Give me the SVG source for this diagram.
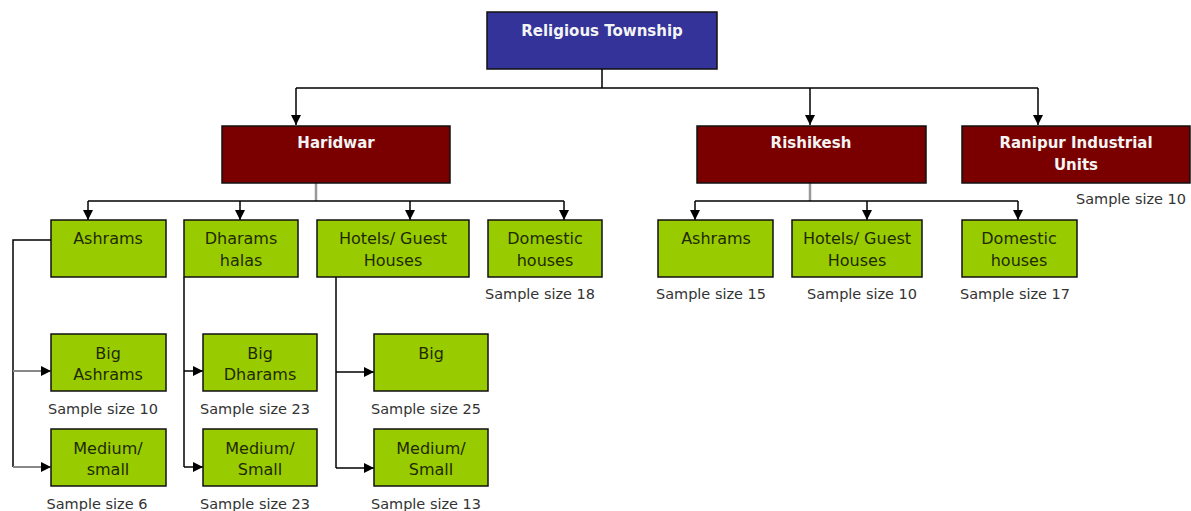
<svg xmlns="http://www.w3.org/2000/svg" width="1191" height="511" viewBox="0 0 1191 511">
  <defs>
    <marker id="arrow" viewBox="0 0 10 10" refX="10" refY="5" markerWidth="10" markerHeight="10" markerUnits="userSpaceOnUse" orient="auto">
      <path d="M0,0 L10,5 L0,10 z" fill="#000"/>
    </marker>
    <style>
      .root { fill: #333399; stroke: #111; stroke-width: 1.5; }
      .region { fill: #7a0000; stroke: #111; stroke-width: 1.5; }
      .cat { fill: #99cc00; stroke: #111; stroke-width: 1.5; }
      .head { font-family: "DejaVu Sans", Verdana, sans-serif; font-size: 15px; font-weight: bold; fill: #f4f4f4; text-anchor: middle; }
      .label { font-family: "DejaVu Sans", Verdana, sans-serif; font-size: 16px; fill: #1e2a00; text-anchor: middle; }
      .note { font-family: "DejaVu Sans", Verdana, sans-serif; font-size: 14.5px; fill: #333; text-anchor: middle; }
      .wire { fill: none; stroke: #000; stroke-width: 1.5; }
      .stem { fill: none; stroke: #999; stroke-width: 2.5; }
      .feed { fill: none; stroke: #888; stroke-width: 2; }
    </style>
  </defs>

  <!-- connectors -->
  <g id="connectors">
    <!-- root to regions -->
    <path class="wire" d="M602,69 V88 M296,88 H1038"/>
    <path class="wire" marker-end="url(#arrow)" d="M296,88 V125"/>
    <path class="wire" marker-end="url(#arrow)" d="M810,88 V125"/>
    <path class="wire" marker-end="url(#arrow)" d="M1038,88 V125"/>

    <!-- Haridwar to categories -->
    <path class="stem" d="M316,183 V201"/>
    <path class="wire" d="M88,201 H564"/>
    <path class="wire" marker-end="url(#arrow)" d="M88,201 V220"/>
    <path class="wire" marker-end="url(#arrow)" d="M240,201 V220"/>
    <path class="wire" marker-end="url(#arrow)" d="M410,201 V220"/>
    <path class="wire" marker-end="url(#arrow)" d="M564,201 V220"/>

    <!-- Rishikesh to categories -->
    <path class="stem" d="M810,183 V201"/>
    <path class="wire" d="M695,201 H1018"/>
    <path class="wire" marker-end="url(#arrow)" d="M695,201 V220"/>
    <path class="wire" marker-end="url(#arrow)" d="M867,201 V220"/>
    <path class="wire" marker-end="url(#arrow)" d="M1018,201 V220"/>

    <!-- Ashrams breakdown -->
    <path class="wire" d="M51,240 H13 V467"/>
    <path class="feed" marker-end="url(#arrow)" d="M13,371 H51"/>
    <path class="feed" marker-end="url(#arrow)" d="M13,467 H51"/>

    <!-- Dharamshalas breakdown -->
    <path class="wire" d="M184,277 V467"/>
    <path class="wire" marker-end="url(#arrow)" d="M184,371 H203"/>
    <path class="wire" marker-end="url(#arrow)" d="M184,467 H203"/>

    <!-- Hotels breakdown -->
    <path class="wire" d="M336,277 V468"/>
    <path class="wire" marker-end="url(#arrow)" d="M336,372 H374"/>
    <path class="wire" marker-end="url(#arrow)" d="M336,468 H374"/>
  </g>

  <!-- top level -->
  <g id="religious-township">
    <rect class="root" x="487" y="12" width="230" height="57"/>
    <text class="head" x="602" y="36">Religious Township</text>
  </g>

  <!-- regions -->
  <g id="haridwar">
    <rect class="region" x="222" y="126" width="228" height="57"/>
    <text class="head" x="336" y="148">Haridwar</text>
  </g>
  <g id="rishikesh">
    <rect class="region" x="697" y="126" width="229" height="57"/>
    <text class="head" x="811" y="148">Rishikesh</text>
  </g>
  <g id="ranipur">
    <rect class="region" x="962" y="126" width="228" height="57"/>
    <text class="head" x="1076" y="148">Ranipur Industrial</text>
    <text class="head" x="1076" y="170">Units</text>
    <text class="note" x="1131" y="204">Sample size 10</text>
  </g>

  <!-- Haridwar categories -->
  <g id="h-ashrams">
    <rect class="cat" x="51" y="220" width="115" height="57"/>
    <text class="label" x="108" y="244">Ashrams</text>
  </g>
  <g id="h-dharamshalas">
    <rect class="cat" x="184" y="220" width="114" height="57"/>
    <text class="label" x="241" y="244">Dharams</text>
    <text class="label" x="241" y="266">halas</text>
  </g>
  <g id="h-hotels">
    <rect class="cat" x="317" y="220" width="152" height="57"/>
    <text class="label" x="393" y="244">Hotels/ Guest</text>
    <text class="label" x="393" y="266">Houses</text>
  </g>
  <g id="h-domestic">
    <rect class="cat" x="488" y="220" width="114" height="57"/>
    <text class="label" x="545" y="244">Domestic</text>
    <text class="label" x="545" y="266">houses</text>
    <text class="note" x="540" y="299">Sample size 18</text>
  </g>

  <!-- Rishikesh categories -->
  <g id="r-ashrams">
    <rect class="cat" x="658" y="220" width="115" height="57"/>
    <text class="label" x="716" y="244">Ashrams</text>
    <text class="note" x="711" y="299">Sample size 15</text>
  </g>
  <g id="r-hotels">
    <rect class="cat" x="792" y="220" width="130" height="57"/>
    <text class="label" x="857" y="244">Hotels/ Guest</text>
    <text class="label" x="857" y="266">Houses</text>
    <text class="note" x="862" y="299">Sample size 10</text>
  </g>
  <g id="r-domestic">
    <rect class="cat" x="962" y="220" width="115" height="57"/>
    <text class="label" x="1019" y="244">Domestic</text>
    <text class="label" x="1019" y="266">houses</text>
    <text class="note" x="1015" y="299">Sample size 17</text>
  </g>

  <!-- Ashrams by size -->
  <g id="big-ashrams">
    <rect class="cat" x="51" y="334" width="115" height="57"/>
    <text class="label" x="108" y="359">Big</text>
    <text class="label" x="108" y="380">Ashrams</text>
    <text class="note" x="103" y="414">Sample size 10</text>
  </g>
  <g id="medium-ashrams">
    <rect class="cat" x="51" y="429" width="115" height="57"/>
    <text class="label" x="108" y="454">Medium/</text>
    <text class="label" x="108" y="475">small</text>
    <text class="note" x="97" y="509">Sample size 6</text>
  </g>

  <!-- Dharamshalas by size -->
  <g id="big-dharams">
    <rect class="cat" x="203" y="334" width="114" height="57"/>
    <text class="label" x="260" y="359">Big</text>
    <text class="label" x="260" y="380">Dharams</text>
    <text class="note" x="255" y="414">Sample size 23</text>
  </g>
  <g id="medium-dharams">
    <rect class="cat" x="203" y="429" width="114" height="57"/>
    <text class="label" x="260" y="454">Medium/</text>
    <text class="label" x="260" y="475">Small</text>
    <text class="note" x="255" y="509">Sample size 23</text>
  </g>

  <!-- Hotels by size -->
  <g id="big-hotels">
    <rect class="cat" x="374" y="334" width="114" height="57"/>
    <text class="label" x="431" y="359">Big</text>
    <text class="note" x="426" y="414">Sample size 25</text>
  </g>
  <g id="medium-hotels">
    <rect class="cat" x="374" y="429" width="114" height="57"/>
    <text class="label" x="431" y="454">Medium/</text>
    <text class="label" x="431" y="475">Small</text>
    <text class="note" x="426" y="509">Sample size 13</text>
  </g>
</svg>
